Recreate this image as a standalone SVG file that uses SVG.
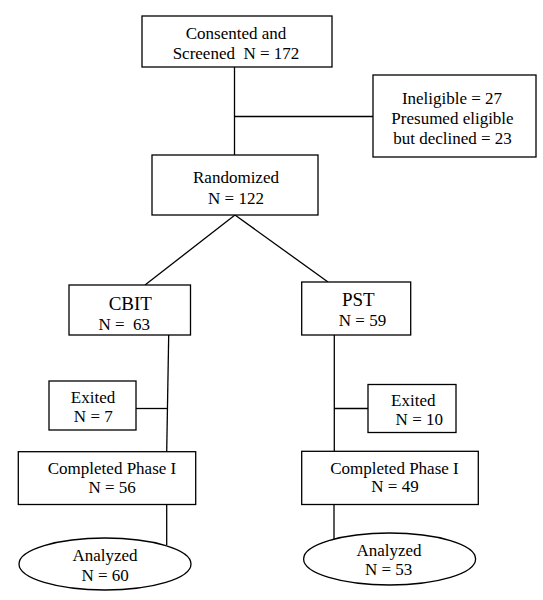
<svg xmlns="http://www.w3.org/2000/svg" width="543" height="600" viewBox="0 0 543 600" font-family="Liberation Serif, 'Times New Roman', serif">
<style>
.b{fill:#fff;stroke:#000;stroke-width:1.3}
.c line{stroke:#000;stroke-width:1.3}
text{font-size:17px;fill:#000;text-anchor:middle}
.big{font-size:19px}
</style>
<rect width="543" height="600" fill="#fff"/>
<g id="connectors" class="c">
<line x1="234.5" y1="67" x2="234.5" y2="155"/>
<line x1="234.5" y1="116.5" x2="373" y2="116.5"/>
<line x1="235" y1="215" x2="145" y2="285"/>
<line x1="235" y1="215" x2="328" y2="282"/>
<line x1="168.7" y1="335" x2="166.7" y2="452"/>
<line x1="136" y1="408.5" x2="168" y2="408.5"/>
<line x1="334.3" y1="335" x2="334.3" y2="451.5"/>
<line x1="334.3" y1="408.5" x2="368" y2="408.5"/>
<line x1="166.7" y1="504.5" x2="166.7" y2="545"/>
<line x1="334" y1="504.5" x2="334" y2="539"/>
</g>
<g id="consented"><rect class="b" x="142" y="16" width="190" height="51"/>
<text x="236" y="38.5">Consented and</text><text x="236" y="58.5" xml:space="preserve">Screened  N = 172</text></g>
<g id="excluded"><rect class="b" x="373" y="75" width="163" height="82"/>
<text x="452" y="103.5">Ineligible = 27</text><text x="452.5" y="123.5">Presumed eligible</text><text x="452.5" y="143.5">but declined = 23</text></g>
<g id="randomized"><rect class="b" x="152" y="155" width="166" height="60"/>
<text x="236" y="182.5">Randomized</text><text x="236" y="203.5">N = 122</text></g>
<g id="cbit"><rect class="b" x="69" y="285" width="121.5" height="50"/>
<text class="big" x="130.3" y="310">CBIT</text><text x="124.3" y="329.5" xml:space="preserve">N =  63</text></g>
<g id="pst"><rect class="b" x="301.7" y="282" width="109" height="53"/>
<text class="big" x="358.3" y="306">PST</text><text x="362.5" y="326">N = 59</text></g>
<g id="exited-cbit"><rect class="b" x="49" y="381" width="87" height="49"/>
<text x="93" y="403.3">Exited</text><text x="93.3" y="421.7">N = 7</text></g>
<g id="exited-pst"><rect class="b" x="368" y="384.5" width="88" height="48"/>
<text x="413.3" y="406">Exited</text><text x="419.3" y="425">N = 10</text></g>
<g id="completed-cbit"><rect class="b" x="18.3" y="451.7" width="177.4" height="52.8"/>
<text x="112" y="473.5">Completed Phase I</text><text x="112.2" y="493">N = 56</text></g>
<g id="completed-pst"><rect class="b" x="301.7" y="451.3" width="176.6" height="53.2"/>
<text x="394.5" y="473.5">Completed Phase I</text><text x="395" y="492">N = 49</text></g>
<g id="analyzed-cbit"><ellipse class="b" cx="105" cy="564" rx="86" ry="26"/>
<text x="105" y="560.5">Analyzed</text><text x="105.2" y="580.5">N = 60</text></g>
<g id="analyzed-pst"><ellipse class="b" cx="389.6" cy="559" rx="86" ry="26"/>
<text x="389" y="555.6">Analyzed</text><text x="388.7" y="575.2">N = 53</text></g>
</svg>
